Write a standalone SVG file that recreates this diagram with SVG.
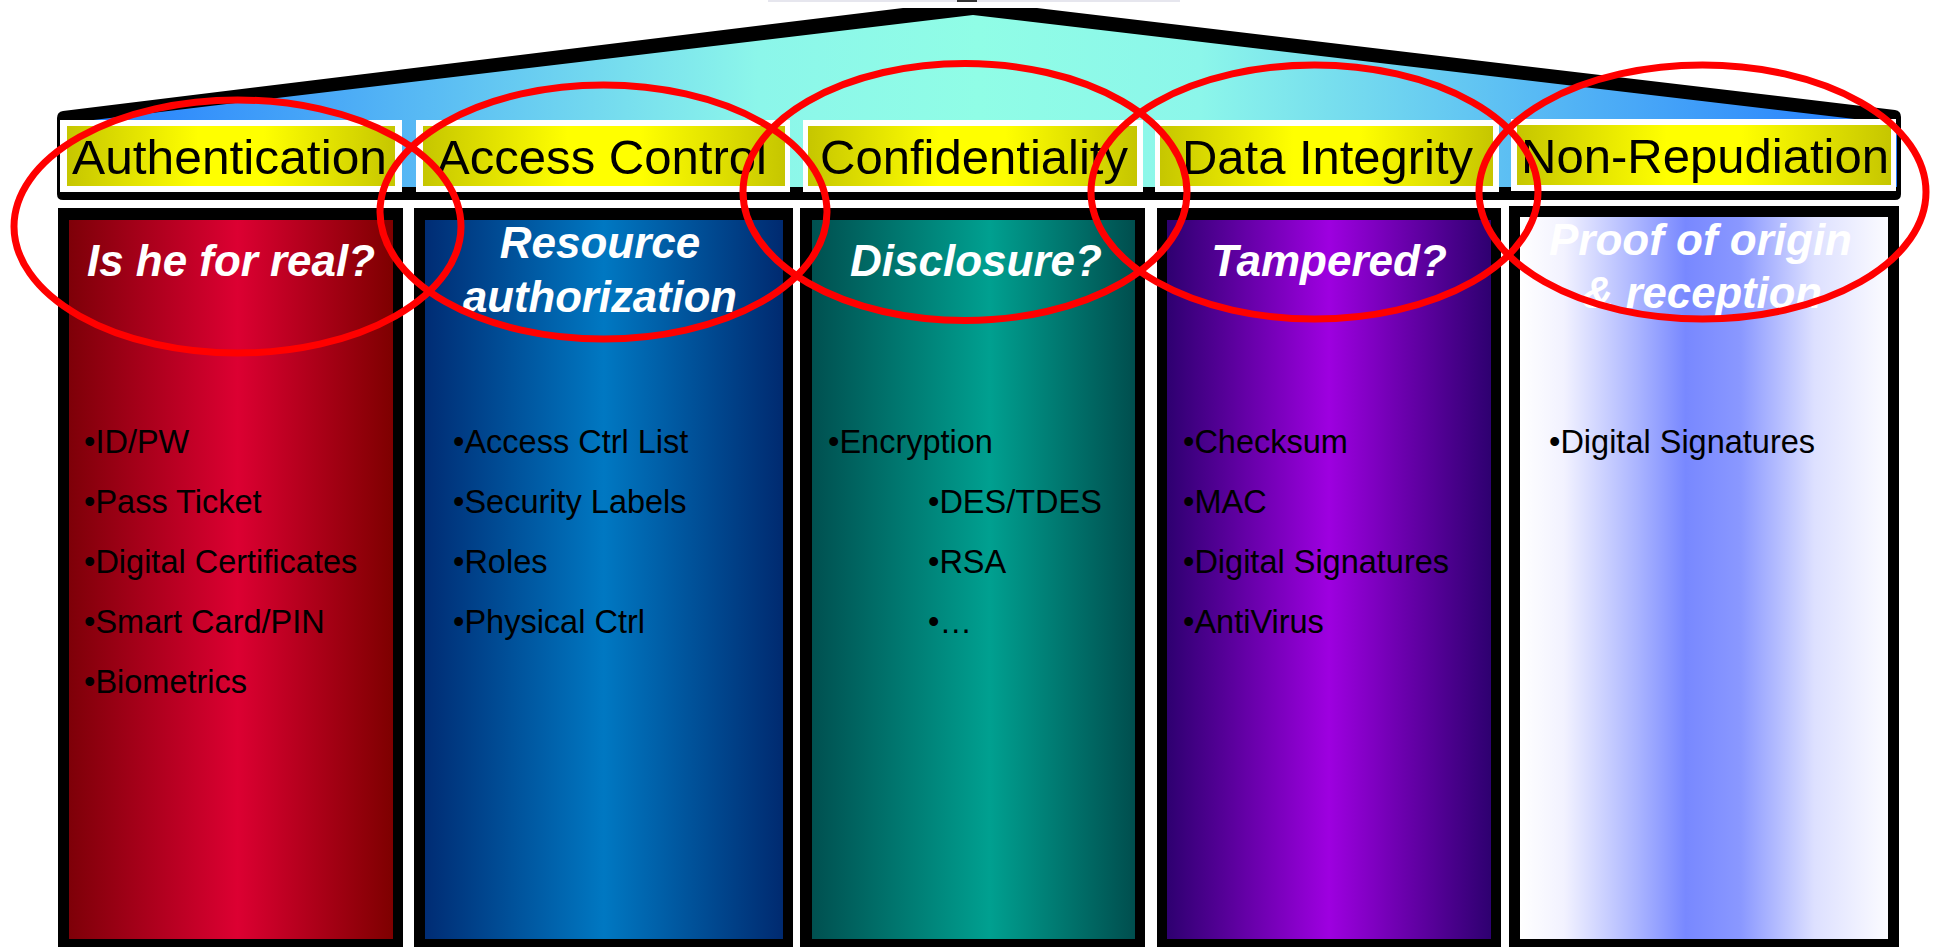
<svg xmlns="http://www.w3.org/2000/svg" width="1934" height="947" viewBox="0 0 1934 947">
<style>
.hdr{font-family:"Liberation Sans",Arial,sans-serif;font-size:48px;fill:#000;text-anchor:middle}
.q{font-family:"Liberation Sans",Arial,sans-serif;font-size:44px;font-weight:bold;font-style:italic;fill:#fff;text-anchor:middle}
.b{font-family:"Liberation Sans",Arial,sans-serif;font-size:32.5px;fill:#000}
.cell{fill:#fff}
.ylw{fill:url(#gY)}
.blk{fill:#000}
.ring{fill:none;stroke:#ff0000;stroke-width:7}
</style>
<defs>
<linearGradient id="gRoof" gradientUnits="userSpaceOnUse" x1="57" y1="0" x2="1901" y2="0">
<stop offset="0" stop-color="#1f78ff"/><stop offset="0.38" stop-color="#8cf6ea"/><stop offset="0.5" stop-color="#90fde6"/><stop offset="0.62" stop-color="#8cf6ea"/><stop offset="1" stop-color="#1f78ff"/>
</linearGradient>
<linearGradient id="gY" x1="0" y1="0" x2="1" y2="0">
<stop offset="0" stop-color="#c6c600"/><stop offset="0.4" stop-color="#ffff00"/><stop offset="0.6" stop-color="#ffff00"/><stop offset="1" stop-color="#c6c600"/>
</linearGradient>
<linearGradient id="gRed" x1="0" y1="0" x2="1" y2="0">
<stop offset="0" stop-color="#7e0008"/><stop offset="0.52" stop-color="#dc0032"/><stop offset="1" stop-color="#7e0000"/>
</linearGradient>
<linearGradient id="gBlue" x1="0" y1="0" x2="1" y2="0">
<stop offset="0" stop-color="#002c74"/><stop offset="0.5" stop-color="#0078c2"/><stop offset="1" stop-color="#002a70"/>
</linearGradient>
<linearGradient id="gTeal" x1="0" y1="0" x2="1" y2="0">
<stop offset="0" stop-color="#005050"/><stop offset="0.55" stop-color="#00a090"/><stop offset="1" stop-color="#004e4e"/>
</linearGradient>
<linearGradient id="gPurp" x1="0" y1="0" x2="1" y2="0">
<stop offset="0" stop-color="#2e0070"/><stop offset="0.5" stop-color="#9e00e0"/><stop offset="1" stop-color="#2e0070"/>
</linearGradient>
<linearGradient id="gLite" x1="0" y1="0" x2="1" y2="0">
<stop offset="0" stop-color="#ffffff"/><stop offset="0.12" stop-color="#f2f2ff"/><stop offset="0.32" stop-color="#aab4ff"/><stop offset="0.45" stop-color="#7888ff"/><stop offset="0.6" stop-color="#8a98ff"/><stop offset="0.8" stop-color="#dde0ff"/><stop offset="1" stop-color="#fbfbff"/>
</linearGradient>
</defs>

<g id="top-strip">
<rect x="768" y="0" width="412" height="2" fill="#e6e6ee"/>
<rect x="957" y="0" width="20" height="2" fill="#333"/>
</g>

<g id="roof">
<path class="blk" d="M57,118 Q57,112 63,111 L903,8 L1037,8 L1895,110 Q1901,111 1901,117 L1901,194 Q1901,200 1895,200 L63,200 Q57,200 57,194 Z"/>
<path fill="url(#gRoof)" d="M60,124 L973,15 L1897,124 L1897,187 L60,187 Z"/>
</g>

<g id="header-authentication">
<rect class="cell" x="60" y="120" width="342" height="72"/>
<rect class="ylw" x="67" y="126" width="328" height="60"/>
<text class="hdr" x="229.5" y="174" textLength="315" lengthAdjust="spacingAndGlyphs">Authentication</text>
</g>
<g id="header-access-control">
<rect class="cell" x="416" y="120" width="374" height="72"/>
<rect class="ylw" x="423" y="126" width="362" height="60"/>
<text class="hdr" x="602" y="174" textLength="330" lengthAdjust="spacingAndGlyphs">Access Control</text>
</g>
<g id="header-confidentiality">
<rect class="cell" x="803" y="120" width="340" height="72"/>
<rect class="ylw" x="808" y="126" width="329" height="60"/>
<text class="hdr" x="974" y="174" textLength="308" lengthAdjust="spacingAndGlyphs">Confidentiality</text>
</g>
<g id="header-data-integrity">
<rect class="cell" x="1155" y="120" width="344" height="72"/>
<rect class="ylw" x="1160" y="126" width="333" height="60"/>
<text class="hdr" x="1327.5" y="174" textLength="291" lengthAdjust="spacingAndGlyphs">Data Integrity</text>
</g>
<g id="header-non-repudiation">
<rect class="cell" x="1511" y="119" width="385" height="72"/>
<rect class="ylw" x="1517" y="125" width="374" height="60"/>
<text class="hdr" x="1705" y="173" textLength="368" lengthAdjust="spacingAndGlyphs">Non-Repudiation</text>
</g>

<g id="pillar-authentication">
<rect class="blk" x="58" y="208" width="345" height="739"/>
<rect x="69" y="220" width="324" height="719" fill="url(#gRed)"/>
<text class="q" x="231" y="276" textLength="288" lengthAdjust="spacingAndGlyphs">Is he for real?</text>
<text class="b" x="84" y="453">•ID/PW</text>
<text class="b" x="84" y="513">•Pass Ticket</text>
<text class="b" x="84" y="573">•Digital Certificates</text>
<text class="b" x="84" y="633">•Smart Card/PIN</text>
<text class="b" x="84" y="693">•Biometrics</text>
</g>

<g id="pillar-access-control">
<rect class="blk" x="414" y="208" width="379" height="739"/>
<rect x="425" y="220" width="358" height="719" fill="url(#gBlue)"/>
<text class="q" x="600" y="258">Resource</text>
<text class="q" x="600" y="312" textLength="274" lengthAdjust="spacingAndGlyphs">authorization</text>
<text class="b" x="453" y="453">•Access Ctrl List</text>
<text class="b" x="453" y="513">•Security Labels</text>
<text class="b" x="453" y="573">•Roles</text>
<text class="b" x="453" y="633">•Physical Ctrl</text>
</g>

<g id="pillar-confidentiality">
<rect class="blk" x="800" y="208" width="345" height="739"/>
<rect x="812" y="220" width="323" height="719" fill="url(#gTeal)"/>
<text class="q" x="976" y="276">Disclosure?</text>
<text class="b" x="828" y="453">•Encryption</text>
<text class="b" x="928" y="513">•DES/TDES</text>
<text class="b" x="928" y="573">•RSA</text>
<text class="b" x="928" y="633">•…</text>
</g>

<g id="pillar-data-integrity">
<rect class="blk" x="1157" y="208" width="344" height="739"/>
<rect x="1167" y="220" width="324" height="719" fill="url(#gPurp)"/>
<text class="q" x="1329" y="276">Tampered?</text>
<text class="b" x="1183" y="453">•Checksum</text>
<text class="b" x="1183" y="513">•MAC</text>
<text class="b" x="1183" y="573">•Digital Signatures</text>
<text class="b" x="1183" y="633">•AntiVirus</text>
</g>

<g id="pillar-non-repudiation">
<rect class="blk" x="1509" y="206" width="390" height="741"/>
<rect x="1520" y="217" width="368" height="722" fill="url(#gLite)"/>
<text class="q" x="1700.5" y="255" textLength="303" lengthAdjust="spacingAndGlyphs">Proof of origin</text>
<text class="q" x="1702" y="308" textLength="240" lengthAdjust="spacingAndGlyphs">&amp; reception</text>
<text class="b" x="1549" y="453">•Digital Signatures</text>
</g>

<g id="highlights">
<ellipse class="ring" cx="237.5" cy="226.5" rx="223.5" ry="126.5"/>
<ellipse class="ring" cx="603.5" cy="212" rx="223.5" ry="127"/>
<ellipse class="ring" cx="965" cy="192" rx="222" ry="128.5"/>
<ellipse class="ring" cx="1314.5" cy="192" rx="223.5" ry="127"/>
<ellipse class="ring" cx="1702.5" cy="192" rx="223.5" ry="127"/>
</g>
</svg>
